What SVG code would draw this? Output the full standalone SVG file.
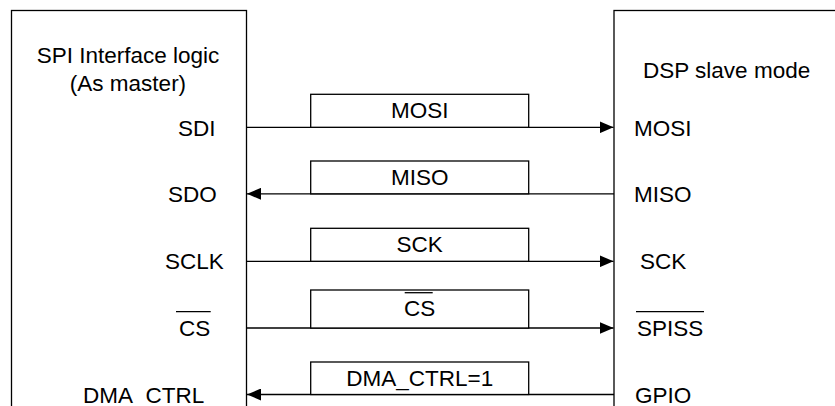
<svg xmlns="http://www.w3.org/2000/svg" width="835" height="406" viewBox="0 0 835 406">
<defs>
<style>
.box{fill:#fff;stroke:#000;stroke-width:1.3}
.lbl{fill:#fff;stroke:#000;stroke-width:1.3}
.t{font-family:"Liberation Sans",Arial,sans-serif;font-size:22.5px;fill:#000}
.m{text-anchor:middle}
.wire{stroke:#000;stroke-width:1.3;fill:none}
.ov{stroke:#000;stroke-width:1.3}
</style>
<marker id="arr" viewBox="0 0 14 12" refX="14" refY="6" markerWidth="14" markerHeight="12" markerUnits="userSpaceOnUse" orient="auto">
<path d="M0,0 L14,6 L0,12 z" fill="#000"/>
</marker>
</defs>
<rect width="835" height="406" fill="#fff"/>
<g id="master">
<rect class="box" x="11.5" y="10.5" width="235" height="420"/>
<text class="t m" x="128" y="63">SPI Interface logic</text>
<text class="t m" x="128" y="91">(As master)</text>
<text class="t" x="178" y="135.5">SDI</text>
<text class="t" x="168" y="201.5">SDO</text>
<text class="t" x="165" y="269">SCLK</text>
<text class="t" x="179" y="335.5">CS</text>
<line class="ov" x1="176" y1="311.7" x2="210.7" y2="311.7"/>
<text class="t" x="83" y="403">DMA_CTRL</text>
</g>
<g id="slave">
<rect class="box" x="614" y="10.5" width="240" height="420"/>
<text class="t" x="643" y="77.5">DSP slave mode</text>
<text class="t" x="634" y="135.5">MOSI</text>
<text class="t" x="634" y="201.5">MISO</text>
<text class="t" x="640" y="269">SCK</text>
<text class="t" x="637" y="335.5">SPISS</text>
<line class="ov" x1="636" y1="311.7" x2="704" y2="311.7"/>
<text class="t" x="635" y="402.5">GPIO</text>
</g>
<g id="connectors">
<line class="wire" x1="246.5" y1="127.3" x2="613.5" y2="127.3" marker-end="url(#arr)"/>
<line class="wire" x1="614" y1="193.8" x2="247" y2="193.8" marker-end="url(#arr)"/>
<line class="wire" x1="246.5" y1="261.3" x2="613.5" y2="261.3" marker-end="url(#arr)"/>
<line class="wire" x1="246.5" y1="328" x2="613.5" y2="328" marker-end="url(#arr)"/>
<line class="wire" x1="614" y1="394.5" x2="247" y2="394.5" marker-end="url(#arr)"/>
</g>
<g id="lbl-mosi">
<rect class="lbl" x="310.7" y="94.3" width="218" height="33"/>
<text class="t m" x="419.7" y="117.7">MOSI</text>
</g>
<g id="lbl-miso">
<rect class="lbl" x="310.7" y="161" width="218" height="32.8"/>
<text class="t m" x="419.7" y="185">MISO</text>
</g>
<g id="lbl-sck">
<rect class="lbl" x="310.7" y="228.3" width="218" height="33"/>
<text class="t m" x="419.7" y="252.3">SCK</text>
</g>
<g id="lbl-cs">
<rect class="lbl" x="310.7" y="290" width="218" height="38"/>
<text class="t m" x="419.7" y="315.7">CS</text>
<line class="ov" x1="404.7" y1="292.7" x2="432.7" y2="292.7"/>
</g>
<g id="lbl-dma">
<rect class="lbl" x="310.7" y="362" width="218" height="32.5"/>
<text class="t m" x="419.7" y="386">DMA_CTRL=1</text>
</g>
</svg>
